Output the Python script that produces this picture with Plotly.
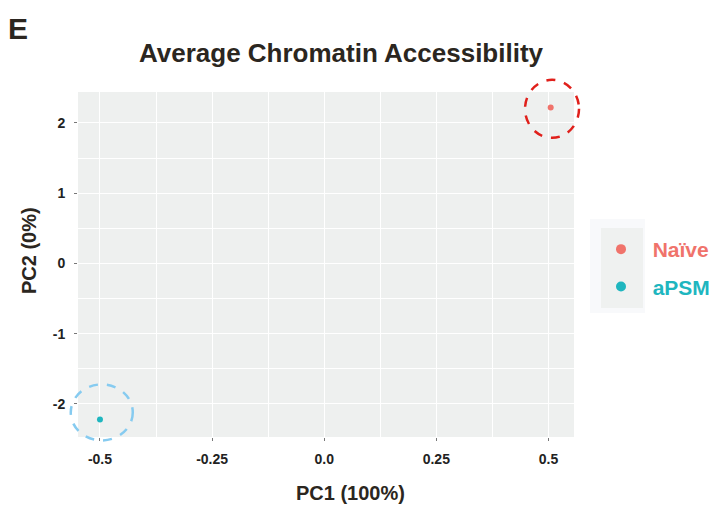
import plotly.graph_objects as go

# PCA coordinates of the two conditions
groups = ["Naïve", "aPSM"]
pc1 = [0.505, -0.500]
pc2 = [2.22, -2.22]
colors = ["#F0736B", "#1FB6BF"]
circle_colors = ["#E0201B", "#86CBF0"]

x_ticks = [-0.5, -0.25, 0.0, 0.25, 0.5]
x_tick_labels = ["-0.5", "-0.25", "0.0", "0.25", "0.5"]
y_ticks = [-2, -1, 0, 1, 2]
y_tick_labels = ["-2", "-1", "0", "1", "2"]

W, H = 713, 507
ML, MR, MT, MB = 78, 139, 92, 70
x_range = [-0.549, 0.557]
y_range = [-2.47, 2.44]
pw, ph = W - ML - MR, H - MT - MB


def px_x(v):
    return (v - ML) / pw


def px_y(v):
    return (H - MB - v) / ph


fig = go.Figure()
for g, x, y, c in zip(groups, pc1, pc2, colors):
    fig.add_trace(go.Scatter(x=[x], y=[y], mode="markers", showlegend=False,
                             marker=dict(size=6, color=c), cliponaxis=False))
    fig.add_trace(go.Scatter(x=[None], y=[None], mode="markers", legendgroup=g,
                             name=f'&nbsp;&nbsp;<b><span style="color:{c}">{g}</span></b>',
                             marker=dict(size=10, color=c)))


def to_paper(x, y):
    px = (x - x_range[0]) / (x_range[1] - x_range[0])
    py = (y - y_range[0]) / (y_range[1] - y_range[0])
    return px, py


# dashed highlight rings around each group (radii in pixels)
ring_offsets = [(0.003, -0.02, 27, 29), (0.004, 0.1, 31, 28)]
for (x, y), (dx, dy, rx, ry), c in zip(zip(pc1, pc2), ring_offsets, circle_colors):
    cx, cy = to_paper(x + dx, y + dy)
    fig.add_shape(type="circle", xref="paper", yref="paper",
                  x0=cx - rx / pw, x1=cx + rx / pw, y0=cy - ry / ph, y1=cy + ry / ph,
                  line=dict(color=c, width=2.5, dash="dash"), layer="above")

# light key panel behind the legend symbols
fig.add_shape(type="rect", xref="paper", yref="paper",
              x0=px_x(590), x1=px_x(645), y0=px_y(313), y1=px_y(219),
              fillcolor="#F8F9FB", line=dict(width=0), layer="below")
fig.add_shape(type="rect", xref="paper", yref="paper",
              x0=px_x(601), x1=px_x(643), y0=px_y(308), y1=px_y(228),
              fillcolor="#EFF1F0", line=dict(width=0), layer="below")

title_color = "#2B2620"
fig.add_annotation(text="<b>E</b>", xref="paper", yref="paper",
                   x=px_x(6), xanchor="left", y=px_y(28), yanchor="middle",
                   showarrow=False, font=dict(size=30, color=title_color))
fig.add_annotation(text="<b>PC1 (100%)</b>", xref="paper", yref="paper",
                   x=px_x(350), xanchor="center", y=px_y(493), yanchor="middle",
                   showarrow=False, font=dict(size=20, color=title_color))
fig.add_annotation(text="<b>PC2 (0%)</b>", xref="paper", yref="paper", textangle=-90,
                   x=px_x(29), xanchor="center", y=px_y(251), yanchor="middle",
                   showarrow=False, font=dict(size=20, color=title_color))

axis_font = dict(family="Liberation Sans, Arial", size=14, color="#222222")
fig.update_layout(
    width=W, height=H,
    margin=dict(l=ML, r=MR, t=MT, b=MB, autoexpand=False),
    paper_bgcolor="white",
    plot_bgcolor="#EEF0EF",
    font=dict(family="Liberation Sans, Arial", color=title_color),
    title=dict(text="<b>Average Chromatin Accessibility</b>", x=341 / W, xanchor="center",
               y=1 - 53 / H, yanchor="middle", font=dict(size=26, color=title_color)),
    xaxis=dict(range=x_range, tickvals=x_ticks, ticktext=[f"<b>{t}</b>" for t in x_tick_labels],
               showgrid=True, gridcolor="white", gridwidth=1.3, zeroline=False,
               minor=dict(tickvals=[-0.375, -0.125, 0.125, 0.375], showgrid=True,
                          gridcolor="white", gridwidth=0.6),
               ticks="outside", ticklen=3, tickcolor="#777777", tickfont=axis_font,
               ticklabelstandoff=6, showline=False, automargin=False),
    yaxis=dict(range=y_range, tickvals=y_ticks, ticktext=[f"<b>{t}</b>" for t in y_tick_labels],
               showgrid=True, gridcolor="white", gridwidth=1.3, zeroline=False,
               minor=dict(tickvals=[-1.5, -0.5, 0.5, 1.5], showgrid=True,
                          gridcolor="white", gridwidth=0.6),
               ticks="outside", ticklen=3, tickcolor="#777777", tickfont=axis_font,
               ticklabelstandoff=6, showline=False, automargin=False),
    legend=dict(x=px_x(601), xanchor="left", y=px_y(229), yanchor="top",
                bgcolor="rgba(0,0,0,0)", font=dict(size=21, family="Liberation Sans, Arial"),
                itemsizing="trace", tracegroupgap=7),
)

fig.write_html("out.html")
